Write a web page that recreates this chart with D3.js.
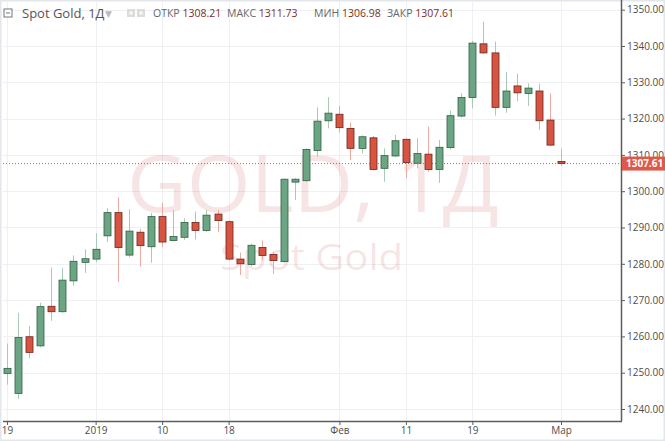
<!DOCTYPE html>
<html>
<head>
  <meta charset="utf-8">
  <title>Spot Gold 1D</title>
  <script src="https://d3js.org/d3.v7.min.js"></script>
  <style>
  body {
    margin: 0;
    background: white;
  }
  text {
    font-family: 'Open Sans', 'DejaVu Sans', sans-serif;
  }
  .grid line {
    stroke: #eef0f3;
    stroke-width: 1px;
  }
  .axis text {
    font-size: 10px;
    fill: #4d4d4d;
  }
  .axis path, .axis line {
    stroke: #5d5d5d;
  }
  </style>
</head>
<body>
<div id='container'></div>

<script>

var dates = [
  '2018-12-19','2018-12-20','2018-12-21','2018-12-24','2018-12-26','2018-12-27','2018-12-28','2018-12-31',
  '2019-01-02','2019-01-03','2019-01-04','2019-01-07','2019-01-08','2019-01-09','2019-01-10','2019-01-11',
  '2019-01-14','2019-01-15','2019-01-16','2019-01-17','2019-01-18','2019-01-21','2019-01-22','2019-01-23',
  '2019-01-24','2019-01-25','2019-01-28','2019-01-29','2019-01-30','2019-01-31',
  '2019-02-01','2019-02-04','2019-02-05','2019-02-06','2019-02-07','2019-02-08','2019-02-11','2019-02-12',
  '2019-02-13','2019-02-14','2019-02-15','2019-02-18','2019-02-19','2019-02-20','2019-02-21','2019-02-22',
  '2019-02-25','2019-02-26','2019-02-27','2019-02-28','2019-03-01'
]

var opens = [
  1249.8, 1244.3, 1259.9, 1257.4, 1268.3, 1266.8, 1275.3, 1280.4, 1281.3, 1287.7,
  1294.1, 1282.4, 1288.7, 1284.7, 1293.0, 1286.4, 1287.3, 1291.4, 1289.2, 1293.7,
  1291.6, 1281.3, 1279.8, 1284.5, 1282.6, 1280.6, 1302.5, 1302.9, 1311.2, 1319.4,
  1321.2, 1317.3, 1311.8, 1314.7, 1306.3, 1309.7, 1314.3, 1307.7, 1310.2, 1306.0,
  1312.0, 1320.7, 1325.8, 1340.6, 1338.1, 1323.1, 1329.0, 1326.9, 1327.6, 1319.6,
  1308.21
]

var highs = [
  1258.0, 1266.5, 1262.9, 1269.3, 1279.0, 1278.8, 1282.3, 1284.0, 1288.4, 1295.3,
  1298.3, 1295.0, 1289.6, 1294.0, 1296.8, 1294.8, 1292.5, 1294.4, 1294.8, 1294.8,
  1292.0, 1283.1, 1285.5, 1286.4, 1283.2, 1303.5, 1303.6, 1311.8, 1323.1, 1325.9,
  1323.5, 1318.9, 1315.4, 1315.2, 1311.8, 1315.5, 1314.6, 1314.6, 1317.8, 1314.1,
  1322.2, 1327.0, 1341.4, 1346.7, 1341.2, 1332.9, 1332.4, 1329.7, 1329.7, 1327.0,
  1311.73
]

var lows = [
  1246.7, 1242.8, 1254.0, 1257.0, 1264.3, 1266.5, 1274.0, 1277.5, 1280.5, 1286.1,
  1275.0, 1281.8, 1279.2, 1280.3, 1284.5, 1286.2, 1286.6, 1286.7, 1288.8, 1288.8,
  1280.9, 1276.9, 1279.3, 1281.0, 1277.2, 1280.3, 1297.6, 1302.6, 1309.5, 1317.3,
  1316.1, 1308.6, 1310.4, 1305.7, 1302.6, 1309.4, 1303.6, 1306.3, 1305.4, 1302.3,
  1311.5, 1320.3, 1322.8, 1337.8, 1320.8, 1321.6, 1324.8, 1323.5, 1316.9, 1312.4,
  1306.98
]

var closes = [
  1251.2, 1259.7, 1255.6, 1268.2, 1266.8, 1275.5, 1280.7, 1281.4, 1284.0, 1294.1,
  1284.5, 1289.0, 1285.0, 1293.0, 1286.0, 1287.5, 1291.4, 1289.2, 1293.4, 1291.9,
  1281.3, 1280.0, 1285.1, 1282.3, 1280.9, 1303.3, 1303.3, 1311.5, 1319.3, 1321.5,
  1317.5, 1311.8, 1315.0, 1306.0, 1309.8, 1313.9, 1307.9, 1310.4, 1306.0, 1312.1,
  1320.8, 1325.8, 1340.8, 1338.1, 1323.1, 1327.6, 1327.1, 1328.4, 1319.4, 1312.7,
  1307.61
]

// bottom axis labels
var tickDates = ['2018-12-19', '2019-01-02', '2019-01-10', '2019-01-18', '2019-02-01', '2019-02-11', '2019-02-19', '2019-03-01']
var tickLabels = ['19', '2019', '10', '18', 'Фев', '11', '19', 'Мар']

var priceTicks = [1240, 1250, 1260, 1270, 1280, 1290, 1300, 1310, 1320, 1330, 1340, 1350]

const width = 665
const height = 441
const plotLeft = 3
const plotRight = 621
const plotBottom = 421

const upFill = '#6ba583', upStroke = '#2e5f42', upWick = '#a9c9b5'
const downFill = '#d75442', downStroke = '#6b231a', downWick = '#eeaaa2'

var candles = dates.map((d, i) => ({date: d, o: opens[i], h: highs[i], l: lows[i], c: closes[i]}))
var last = candles[candles.length - 1]

var svg = d3.select('#container')
  .append('svg')
  .attr('width', width)
  .attr('height', height)

var x = d3.scalePoint()
  .domain(dates)
  .range([7, 561])

var y = d3.scaleLinear()
  .domain([1240, 1350])
  .range([409, 9.7])

// frame
svg.append('rect')
  .attr('x', 0.5).attr('y', 0.5)
  .attr('width', width - 1).attr('height', height - 1)
  .style('fill', 'white')
  .style('stroke', '#e3e6ea')
  .style('stroke-width', 2)

// grid
svg.append('g')
  .attr('class', 'grid')
  .selectAll('line.h')
  .data(priceTicks)
  .enter()
  .append('line')
  .attr('x1', plotLeft).attr('x2', plotRight)
  .attr('y1', d => Math.round(y(d)) + 0.5)
  .attr('y2', d => Math.round(y(d)) + 0.5)

svg.append('g')
  .attr('class', 'grid')
  .selectAll('line.v')
  .data(tickDates)
  .enter()
  .append('line')
  .attr('x1', d => Math.round(x(d)) + 0.5)
  .attr('x2', d => Math.round(x(d)) + 0.5)
  .attr('y1', 2).attr('y2', plotBottom)

// watermark
svg.append('text')
  .attr('x', 127).attr('y', 212)
  .attr('textLength', 372)
  .attr('lengthAdjust', 'spacingAndGlyphs')
  .style('font-size', '78px')
  .style('fill', 'rgba(205, 90, 90, 0.16)')
  .text('GOLD, 1Д')

svg.append('text')
  .attr('x', 220).attr('y', 270)
  .attr('textLength', 183)
  .attr('lengthAdjust', 'spacingAndGlyphs')
  .style('font-size', '36px')
  .style('fill', 'rgba(205, 90, 90, 0.16)')
  .text('Spot Gold')

// last price dotted line
svg.append('line')
  .attr('x1', plotLeft).attr('x2', plotRight)
  .attr('y1', y(last.c)).attr('y2', y(last.c))
  .style('stroke', '#e0584a')
  .style('stroke-width', 1)
  .style('stroke-dasharray', '1,2')

// candles
var bodyW = 7

var g = svg.selectAll('.candle')
  .data(candles)
  .enter()
  .append('g')
  .classed('candle', true)

g.append('line')
  .attr('x1', d => Math.round(x(d.date)) + 0.5)
  .attr('x2', d => Math.round(x(d.date)) + 0.5)
  .attr('y1', d => y(d.h))
  .attr('y2', d => y(d.l))
  .style('stroke', d => d.c >= d.o ? upWick : downWick)
  .style('stroke-width', 1)

g.append('rect')
  .attr('x', d => Math.round(x(d.date)) - bodyW / 2 + 0.5)
  .attr('y', d => y(Math.max(d.o, d.c)))
  .attr('width', bodyW)
  .attr('height', d => Math.max(1, y(Math.min(d.o, d.c)) - y(Math.max(d.o, d.c))))
  .style('fill', d => d.c >= d.o ? upFill : downFill)
  .style('stroke', d => d.c >= d.o ? upStroke : downStroke)
  .style('stroke-width', 0.8)

// axes
var yAxis = d3.axisRight(y)
  .tickValues(priceTicks)
  .tickSize(4)
  .tickPadding(2)
  .tickFormat(d3.format('.2f'))

svg.append('g')
  .attr('class', 'axis')
  .attr('transform', 'translate(' + plotRight + ',0)')
  .call(yAxis)
  .call(a => a.select('.domain').attr('d', 'M0.5,0V' + plotBottom).style('stroke-width', 1.5))

var xAxis = d3.axisBottom(x)
  .tickValues(tickDates)
  .tickSize(4)
  .tickPadding(2)
  .tickFormat((d, i) => tickLabels[i])

svg.append('g')
  .attr('class', 'axis')
  .attr('transform', 'translate(0,' + plotBottom + ')')
  .call(xAxis)
  .call(a => a.select('.domain').attr('d', 'M' + plotLeft + ',0.5H' + (plotRight + 1)).style('stroke-width', 1.5))

// last price label
var tag = svg.append('g')
  .attr('transform', 'translate(' + plotRight + ',' + y(last.c) + ')')

tag.append('rect')
  .attr('x', 1).attr('y', -7)
  .attr('width', 43).attr('height', 14)
  .style('fill', '#e0584a')

tag.append('text')
  .attr('x', 5).attr('y', 3.5)
  .style('font-size', '10px')
  .style('font-weight', 'bold')
  .style('fill', 'white')
  .text(d3.format('.2f')(last.c))

// header
var header = svg.append('g')

header.append('rect')
  .attr('x', 4).attr('y', 9).attr('width', 8).attr('height', 8)
  .style('fill', 'white').style('stroke', '#777')
header.append('line')
  .attr('x1', 6).attr('x2', 10).attr('y1', 13).attr('y2', 13)
  .style('stroke', '#777')

header.append('text')
  .attr('x', 22).attr('y', 18)
  .style('font-size', '13px')
  .style('fill', '#555')
  .text('Spot Gold, 1Д')

header.append('text')
  .attr('x', 105).attr('y', 17)
  .style('font-size', '9px')
  .style('fill', '#bbb')
  .text('▼')

header.selectAll('.icon')
  .data([127, 137])
  .enter()
  .append('rect')
  .attr('x', d => d).attr('y', 9).attr('width', 8).attr('height', 8)
  .style('fill', '#dcdcdc')

header.selectAll('.iconDot')
  .data([127, 137])
  .enter()
  .append('circle')
  .attr('cx', d => d + 4).attr('cy', 13).attr('r', 2)
  .style('fill', '#f4f4f4')

var legendNames = ['ОТКР', 'МАКС', 'МИН', 'ЗАКР']
var legendValues = [last.o, last.h, last.l, last.c]
var legendX = [153, 227, 314, 387]

legendNames.forEach((name, i) => {
  var t = header.append('text')
    .attr('x', legendX[i]).attr('y', 17)
    .style('font-size', '10.5px')
  t.append('tspan').style('fill', '#666').text(name + ' ')
  t.append('tspan').style('fill', '#7d2f28').text(d3.format('.2f')(legendValues[i]))
})

</script>
</body>
</html>
